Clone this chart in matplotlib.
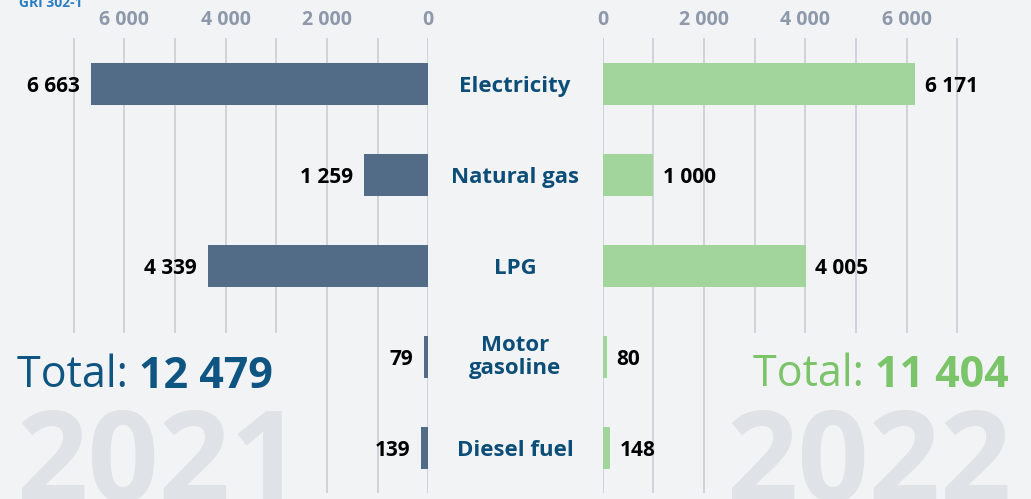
import numpy as np
import matplotlib
matplotlib.use("Agg")
import matplotlib.pyplot as plt
import matplotlib.transforms as mtransforms
from matplotlib.patches import Rectangle
from matplotlib.ticker import FixedLocator, MultipleLocator

# Data (energy consumption by source, GRI 302-1)
categories = ["Electricity", "Natural gas", "LPG", "Motor\ngasoline", "Diesel fuel"]
values_2021 = [6663, 1259, 4339, 79, 139]
values_2022 = [6171, 1000, 4005, 80, 148]
total_2021 = 12479
total_2022 = 11404
tick_values = [0, 2000, 4000, 6000]

# Colours
BG = "#f2f3f5"
GRID = "#cdd1d8"
LEFT_BAR = "#526b86"
RIGHT_BAR = "#a2d59c"
CAT_COLOR = "#0c4e78"
TICK_COLOR = "#8d99aa"
LEFT_TOTAL = "#0f5582"
RIGHT_TOTAL = "#7bc46a"
WATERMARK = "#dfe2e6"

plt.rcParams["font.family"] = ["Open Sans", "DejaVu Sans"]

W, H = 1031, 499


def fmt(v):
    return f"{v:,}".replace(",", " ")


def fx(px):
    return px / W


def fy(py):
    return 1 - py / H


fig = plt.figure(figsize=(W / 100, H / 100), dpi=100, facecolor=BG)

xmax = 7030
ax_w = xmax * 50.67 / W / 1000
ax_l = fig.add_axes([fx(72), fy(493), ax_w, (493 - 38) / H])
ax_r = fig.add_axes([fx(602.7), fy(493), ax_w, (493 - 38) / H])

y = np.arange(len(categories))

for ax, vals, color in [(ax_l, values_2021, LEFT_BAR), (ax_r, values_2022, RIGHT_BAR)]:
    ax.set_facecolor(BG)
    ax.barh(y, vals, height=0.46, color=color, zorder=2)
    ax.set_xlim(0, xmax)
    ax.set_ylim(4.495, -0.505)
    ax.xaxis.set_major_locator(FixedLocator(tick_values))
    ax.xaxis.set_minor_locator(MultipleLocator(1000))
    ax.set_xticklabels([fmt(t) for t in tick_values])
    ax.tick_params(axis="x", which="both", top=True, bottom=False, labeltop=True,
                   labelbottom=False, length=0, pad=5.5, labelsize=14, labelcolor=TICK_COLOR)
    for lbl in ax.get_xticklabels():
        lbl.set_fontweight("bold")
    ax.set_yticks([])
    ax.grid(axis="x", which="both", color=GRID, linewidth=1.3, zorder=0)
    ax.set_axisbelow(True)
    for s in ax.spines.values():
        s.set_visible(False)
    # hide the grid behind the totals / year watermark
    ax.add_patch(Rectangle((2500, 2.74), 5000, 2.0, facecolor=BG, edgecolor="none",
                           zorder=1, clip_on=False))

ax_l.invert_xaxis()

for i, v in enumerate(values_2021):
    ax_l.annotate(fmt(v), xy=(v, i), xytext=(-8, 0), textcoords="offset points",
                  ha="right", va="center_baseline", fontsize=15, fontweight="bold", color="black")
for i, v in enumerate(values_2022):
    ax_r.annotate(fmt(v), xy=(v, i), xytext=(7, 0), textcoords="offset points",
                  ha="left", va="center_baseline", fontsize=15, fontweight="bold", color="black")

# category names in the middle
trans = mtransforms.blended_transform_factory(fig.transFigure, ax_l.transData)
for i, c in enumerate(categories):
    va = "center" if "\n" in c else "center_baseline"
    fig.text(fx(515), i, c, transform=trans, ha="center", va=va,
             fontsize=16, fontweight="bold", color=CAT_COLOR, linespacing=1.1)

# year watermarks
fig.text(fx(16), fy(501), "2021", ha="left", va="baseline", fontsize=90,
         fontweight="bold", color=WATERMARK, zorder=1)
fig.text(fx(1012), fy(501), "2022", ha="right", va="baseline", fontsize=90,
         fontweight="bold", color=WATERMARK, zorder=1)

# totals
TOTAL_FS = 31
t1 = fig.text(fx(17), fy(387), "Total: ", ha="left", va="baseline", fontsize=TOTAL_FS,
              color=LEFT_TOTAL, zorder=3)
fig.add_artist(plt.Annotation(fmt(total_2021), xy=(1, 0), xycoords=t1, ha="left", va="bottom",
                              fontsize=TOTAL_FS, fontweight="bold", color=LEFT_TOTAL, zorder=3))

t2 = fig.text(fx(1009), fy(387), fmt(total_2022), ha="right", va="baseline", fontsize=TOTAL_FS,
              fontweight="bold", color=RIGHT_TOTAL, zorder=3)
fig.add_artist(plt.Annotation("Total: ", xy=(0, 0), xycoords=t2, ha="right", va="bottom",
                              fontsize=TOTAL_FS, color=RIGHT_TOTAL, zorder=3))

fig.text(fx(19), fy(7), "GRI 302-1", ha="left", va="baseline", fontsize=10,
         fontweight="bold", color="#2b7ec4")

fig.savefig("out.png", dpi=100, facecolor=BG)
